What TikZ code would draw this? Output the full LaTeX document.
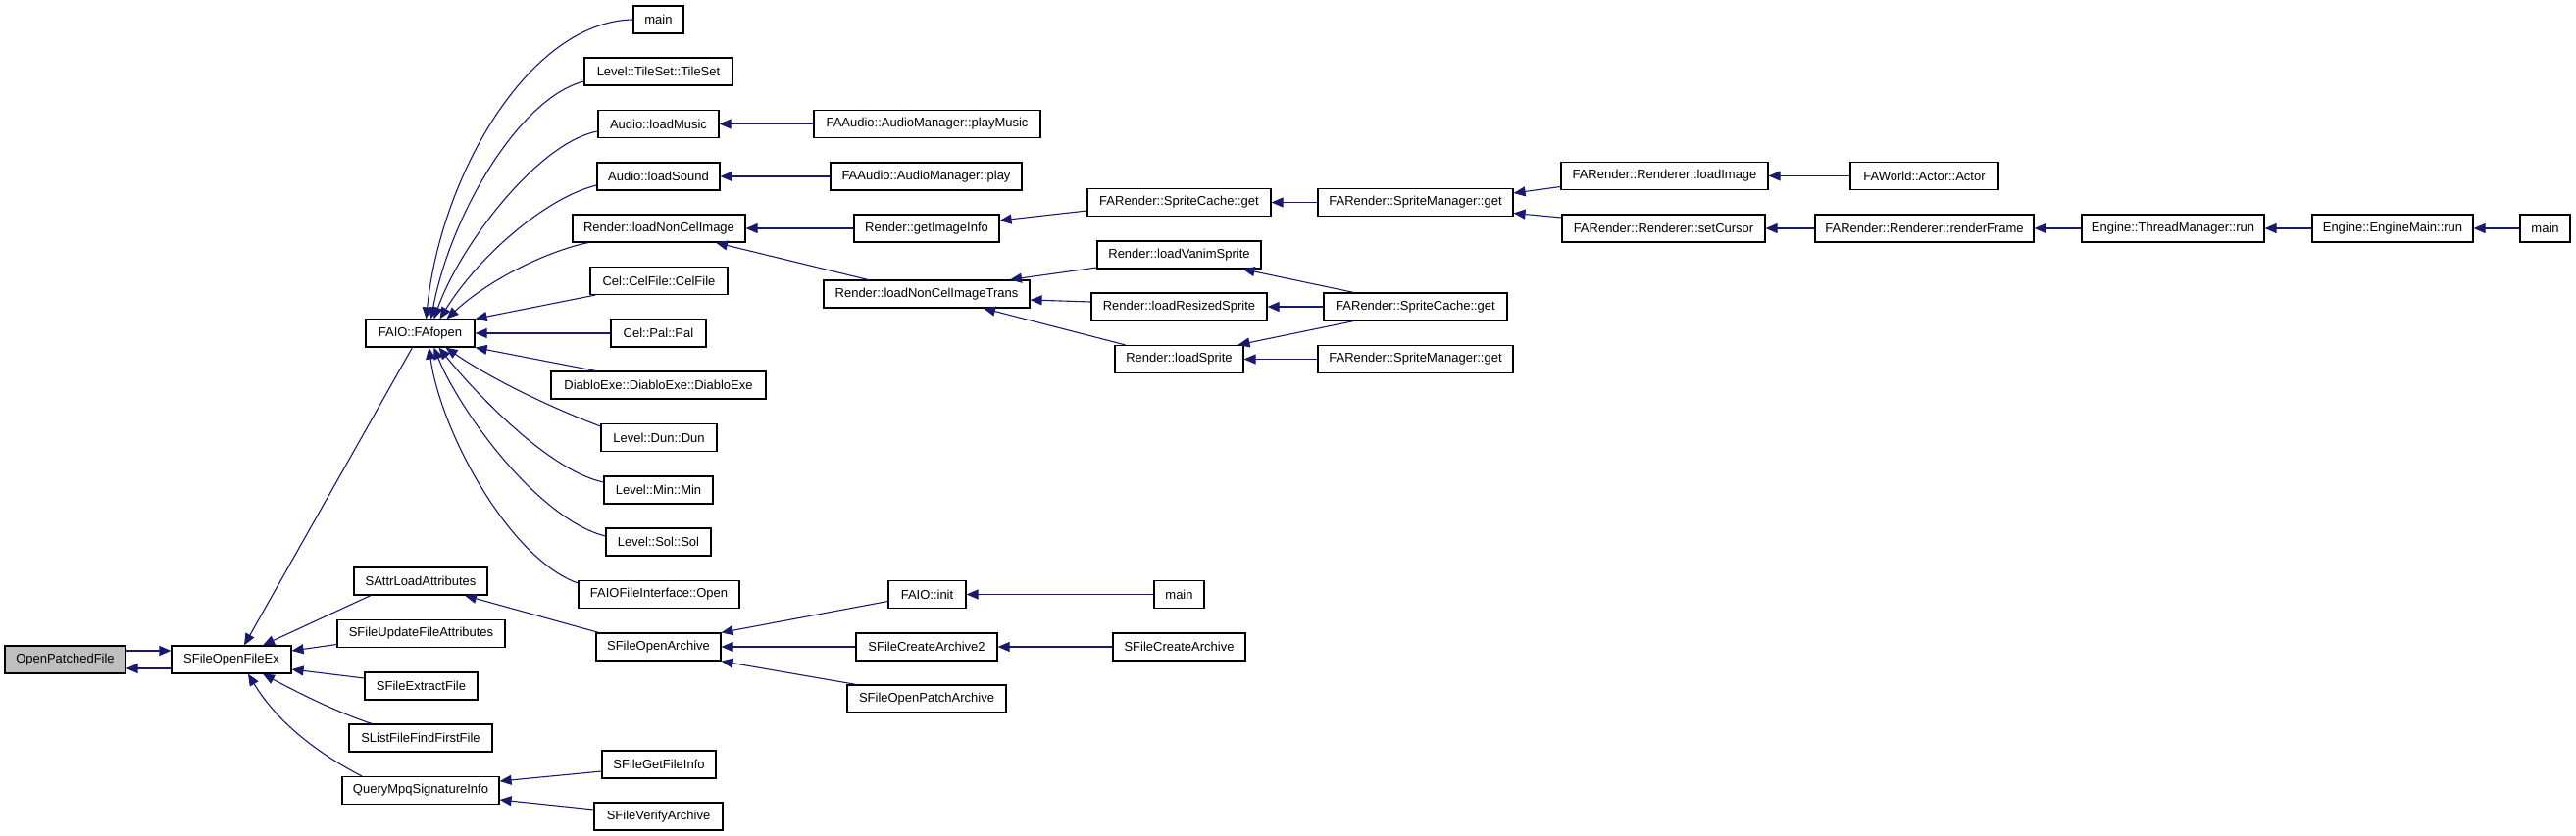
\documentclass[tikz,border=0pt]{standalone}
\usepackage{fontspec}
\setmainfont{Liberation Sans}
\usetikzlibrary{arrows.meta}
\definecolor{edgeblue}{HTML}{191970}
\begin{document}
\begin{tikzpicture}[x=1pt,y=-1pt,
  box/.style={draw=black, line width=1.2pt, minimum height=28pt, inner sep=0pt, fill=white,
    font=\fontsize{13}{15}\selectfont},
  edge/.style={draw=edgeblue, line width=1.1pt, -{Triangle[length=12pt,width=10pt]}}]
\useasboundingbox (0,0) rectangle (2627,853);
% column 1-2
\node[box, fill=black!25, minimum width=123pt] (opf) at (66.5,673) {OpenPatchedFile};
\node[box, minimum width=122pt] (sofe) at (236,673) {SFileOpenFileEx};
% column 3
\node[box, minimum width=111pt] (faio) at (428.5,340) {FAIO::FAfopen};
\node[box, minimum width=136pt] (sala) at (429,593) {SAttrLoadAttributes};
\node[box, minimum width=171pt] (sufa) at (429.5,646.5) {SFileUpdateFileAttributes};
\node[box, minimum width=115pt] (sefe) at (429.5,700) {SFileExtractFile};
\node[box, minimum width=146pt] (slff) at (429,753) {SListFileFindFirstFile};
\node[box, minimum width=160pt] (qmsi) at (429,806.5) {QueryMpqSignatureInfo};
% column 4
\node[box, minimum width=51pt] (mainA) at (671.5,20) {main};
\node[box, minimum width=151pt] (tileset) at (671.5,73) {Level::TileSet::TileSet};
\node[box, minimum width=123pt] (lmusic) at (671.5,126.5) {Audio::loadMusic};
\node[box, minimum width=125pt] (lsound) at (671.5,180) {Audio::loadSound};
\node[box, minimum width=176pt] (lnci) at (672,233) {Render::loadNonCelImage};
\node[box, minimum width=140pt] (celfile) at (672,286.5) {Cel::CelFile::CelFile};
\node[box, minimum width=97pt] (pal) at (671.5,340) {Cel::Pal::Pal};
\node[box, minimum width=219pt] (diablo) at (671.5,393) {DiabloExe::DiabloExe::DiabloExe};
\node[box, minimum width=118pt] (dun) at (672,446.5) {Level::Dun::Dun};
\node[box, minimum width=111pt] (min) at (671.5,500) {Level::Min::Min};
\node[box, minimum width=107pt] (sol) at (671.5,553) {Level::Sol::Sol};
\node[box, minimum width=164pt] (fofi) at (672,606.5) {FAIOFileInterface::Open};
\node[box, minimum width=127pt] (sfoa) at (671.5,660) {SFileOpenArchive};
\node[box, minimum width=116pt] (sgfi) at (672,780) {SFileGetFileInfo};
\node[box, minimum width=131pt] (sfva) at (671.5,833) {SFileVerifyArchive};
% column 5
\node[box, minimum width=231pt] (pmusic) at (945.5,126.5) {FAAudio::AudioManager::playMusic};
\node[box, minimum width=195pt] (play) at (944.5,180) {FAAudio::AudioManager::play};
\node[box, minimum width=148pt] (gii) at (945,233) {Render::getImageInfo};
\node[box, minimum width=210pt] (lncit) at (945,300) {Render::loadNonCelImageTrans};
\node[box, minimum width=79pt] (finit) at (945.5,606.5) {FAIO::init};
\node[box, minimum width=144pt] (sfca2) at (945,660) {SFileCreateArchive2};
\node[box, minimum width=162pt] (sfopa) at (945,713) {SFileOpenPatchArchive};
% column 6
\node[box, minimum width=187pt] (scA) at (1202.5,206.5) {FARender::SpriteCache::get};
\node[box, minimum width=167pt] (lvs) at (1202.5,260) {Render::loadVanimSprite};
\node[box, minimum width=179pt] (lrs) at (1202.5,313) {Render::loadResizedSprite};
\node[box, minimum width=131pt] (ls) at (1202.5,366.5) {Render::loadSprite};
\node[box, minimum width=51pt] (mainB) at (1202.5,606.5) {main};
\node[box, minimum width=135pt] (sfca) at (1202.5,660) {SFileCreateArchive};
% column 7
\node[box, minimum width=199pt] (smA) at (1443.5,206.5) {FARender::SpriteManager::get};
\node[box, minimum width=187pt] (scB) at (1443.5,313) {FARender::SpriteCache::get};
\node[box, minimum width=199pt] (smB) at (1443.5,366.5) {FARender::SpriteManager::get};
% column 8+
\node[box, minimum width=211pt] (limg) at (1697.5,179.5) {FARender::Renderer::loadImage};
\node[box, minimum width=207pt] (scur) at (1696.5,233) {FARender::Renderer::setCursor};
\node[box, minimum width=151pt] (actor) at (1962.5,179.5) {FAWorld::Actor::Actor};
\node[box, minimum width=223pt] (rframe) at (1962.5,233) {FARender::Renderer::renderFrame};
\node[box, minimum width=186pt] (tmrun) at (2216,233) {Engine::ThreadManager::run};
\node[box, minimum width=164pt] (emrun) at (2440,233) {Engine::EngineMain::run};
\node[box, minimum width=51pt] (mainC) at (2595.5,233) {main};

% edges around OpenPatchedFile
\draw[edge] ([yshift=9pt]opf.east) -- ([yshift=9pt]sofe.west);
\draw[edge] ([yshift=-9pt]sofe.west) -- ([yshift=-9pt]opf.east);
\draw[edge] ([xshift=-8pt]faio.south) -- ([xshift=13pt]sofe.north);
\draw[edge] ([xshift=-51pt]sala.south) -- ([xshift=32pt]sofe.north);
\draw[edge] ([yshift=-11pt]sufa.west) -- ([yshift=9pt]sofe.east);
\draw[edge] ([yshift=8pt]sefe.west) -- ([yshift=-10pt]sofe.east);
\draw[edge] ([xshift=-50pt]slff.north) .. controls +(-39,-13) and +(32,17) .. ([xshift=32pt]sofe.south);
\draw[edge] ([xshift=-60pt]qmsi.north) .. controls +(-39,-20) and +(32,53) .. ([xshift=17pt]sofe.south);
% fan into FAIO::FAfopen
\draw[edge] (mainA.west) .. controls +(-106,2) and +(15,-146) .. ([xshift=6pt]faio.north);
\draw[edge] ([yshift=-10pt]tileset.west) .. controls +(-66,17) and +(20,-106) .. ([xshift=11pt]faio.north);
\draw[edge] ([yshift=-7.5pt]lmusic.west) .. controls +(-60,11) and +(27,-76) .. ([xshift=14pt]faio.north);
\draw[edge] ([yshift=-9pt]lsound.west) .. controls +(-50,12) and +(41,-66) .. ([xshift=20pt]faio.north);
\draw[edge] ([xshift=-72pt]lnci.south) .. controls +(-40,8) and +(44,-41) .. ([xshift=27pt]faio.north);
\draw[edge] ([xshift=-65pt]celfile.south) -- (faio.north east);
\draw[edge] (pal.west) -- (faio.east);
\draw[edge] ([xshift=-64pt]diablo.north) -- (faio.south east);
\draw[edge] ([yshift=11.5pt]dun.west) .. controls +(-53,-20) and +(45,31) .. ([xshift=26pt]faio.south);
\draw[edge] ([yshift=8pt]min.west) .. controls +(-56,-12) and +(37,46) .. ([xshift=19pt]faio.south);
\draw[edge] ([yshift=6pt]sol.west) .. controls +(-68,-17) and +(27,66) .. ([xshift=14pt]faio.south);
\draw[edge] ([yshift=11.5pt]fofi.west) .. controls +(-70,-25) and +(12,86) .. ([xshift=9pt]faio.south);
% audio
\draw[edge] (pmusic.west) -- (lmusic.east);
\draw[edge] (play.west) -- (lsound.east);
% render
\draw[edge] (gii.west) -- (lnci.east);
\draw[edge] ([xshift=-60pt]lncit.north) -- ([xshift=58pt]lnci.south);
\draw[edge] ([yshift=-8.5pt]scA.west) -- ([yshift=8pt]gii.east);
\draw[edge] ([yshift=-13pt]lvs.west) -- ([xshift=85pt]lncit.north);
\draw[edge] ([yshift=5pt]lrs.west) -- ([yshift=-6pt]lncit.east);
\draw[edge] ([xshift=-55pt]ls.north) -- ([xshift=58pt]lncit.south);
\draw[edge] (smA.west) -- (scA.east);
\draw[edge] ([xshift=-63pt]scB.north) -- ([xshift=65pt]lvs.south);
\draw[edge] (scB.west) -- (lrs.east);
\draw[edge] ([xshift=-63pt]scB.south) -- ([xshift=60pt]ls.north);
\draw[edge] (smB.west) -- (ls.east);
\draw[edge] ([yshift=-11pt]limg.west) -- ([yshift=9.5pt]smA.east);
\draw[edge] ([yshift=11pt]scur.west) -- ([yshift=-11pt]smA.east);
\draw[edge] (actor.west) -- (limg.east);
\draw[edge] (rframe.west) -- (scur.east);
\draw[edge] (tmrun.west) -- (rframe.east);
\draw[edge] (emrun.west) -- (tmrun.east);
\draw[edge] (mainC.west) -- (emrun.east);
% archive
\draw[edge] ([xshift=-61pt]sfoa.north) -- ([xshift=45pt]sala.south);
\draw[edge] ([yshift=-7pt]finit.west) -- (sfoa.north east);
\draw[edge] (sfca2.west) -- (sfoa.east);
\draw[edge] ([xshift=-72pt]sfopa.north) -- (sfoa.south east);
\draw[edge] (mainB.west) -- (finit.east);
\draw[edge] (sfca.west) -- (sfca2.east);
% signature
\draw[edge] ([yshift=-7pt]sgfi.west) -- ([yshift=9.5pt]qmsi.east);
\draw[edge] ([yshift=7pt]sfva.west) -- ([yshift=-9.5pt]qmsi.east);
\end{tikzpicture}
\end{document}
